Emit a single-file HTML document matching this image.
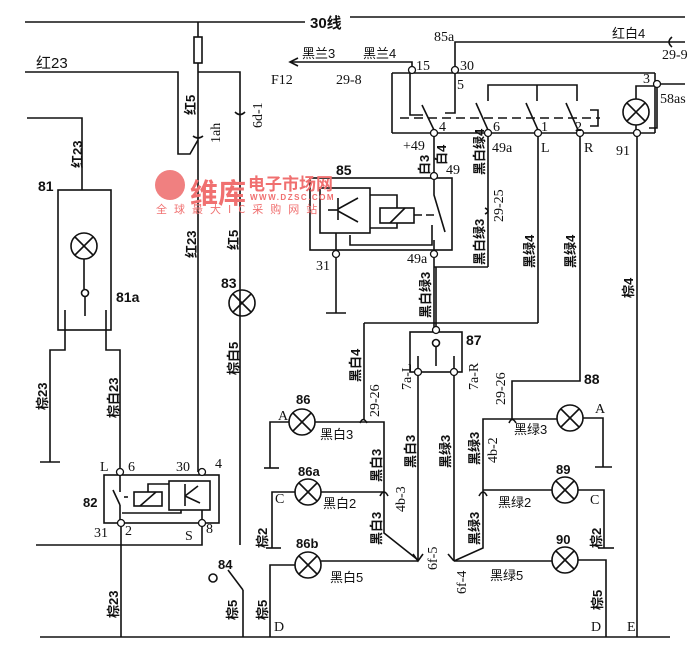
<!DOCTYPE html>
<html><head><meta charset="utf-8"><style>
body{margin:0;background:#fff}
svg{display:block}
text{font-family:"Liberation Serif","Noto Serif CJK SC",serif;font-size:14px;fill:#111}
.c{font-family:"Liberation Sans","Noto Sans CJK SC",sans-serif;font-weight:bold;font-size:13px}
</style></head><body>
<svg width="700" height="653" viewBox="0 0 700 653" xmlns="http://www.w3.org/2000/svg">
<g stroke="#111" stroke-width="1.6" fill="none">
<line x1="25" y1="22" x2="305" y2="22"/>
<line x1="350" y1="17" x2="685" y2="17"/>
<line x1="198" y1="22" x2="198" y2="472"/>
<rect x="194" y="37" width="8" height="26" fill="#fff"/>
<polyline points="25,72 178,72 178,154 190,154 198,140"/>
<path d="M193,136 q5,4 10,0"/>
<polyline points="198,72 240,72 240,545"/>
<path d="M235,112 q5,5 10,0"/>
<circle cx="242" cy="303" r="13"/>
<line x1="233" y1="294" x2="251" y2="312"/><line x1="251" y1="294" x2="233" y2="312"/>
<polyline points="27,118 82,118 82,190"/>
<rect x="58" y="190" width="53" height="140"/>
<circle cx="84" cy="246" r="13"/>
<line x1="75" y1="237" x2="93" y2="255"/><line x1="93" y1="237" x2="75" y2="255"/>
<line x1="84" y1="259" x2="84" y2="289"/>
<circle cx="85" cy="293" r="3.5" fill="#fff"/>
<line x1="85" y1="297" x2="85" y2="316"/>
<line x1="65" y1="310" x2="65" y2="330"/><line x1="106" y1="310" x2="106" y2="330"/>
<polyline points="65,330 65,350 50,350 50,462"/><line x1="40" y1="462" x2="60" y2="462"/>
<polyline points="106,330 106,350 120,350 120,472"/>
<rect x="104" y="475" width="115" height="48"/>
<rect x="169" y="481" width="41" height="29"/>
<rect x="134" y="492" width="28" height="14"/>
<polyline points="148,492 148,484 169,484"/>
<line x1="140" y1="506" x2="156" y2="492"/>
<line x1="120" y1="476" x2="120" y2="492"/>
<line x1="113" y1="490" x2="120" y2="505"/>
<line x1="120" y1="505" x2="120" y2="520"/>
<line x1="124" y1="497" x2="131" y2="497" stroke-dasharray="4 3"/>
<polyline points="122,513 181,513 181,510"/>
<line x1="185" y1="484" x2="185" y2="506"/><line x1="185" y1="496" x2="198" y2="486"/><line x1="185" y1="496" x2="200" y2="503"/>
<line x1="202" y1="510" x2="202" y2="520"/>
<polyline points="36,545 202,545 202,527"/>
<line x1="121" y1="527" x2="121" y2="637"/>
<circle cx="213" cy="578" r="4"/>
<line x1="228" y1="570" x2="243" y2="590"/>
<line x1="243" y1="590" x2="243" y2="637"/>
<line x1="40" y1="637" x2="670" y2="637"/>
<circle cx="302" cy="422" r="13"/><line x1="293" y1="413" x2="311" y2="431"/><line x1="311" y1="413" x2="293" y2="431"/>
<polyline points="289,422 270,422 270,468"/><line x1="264" y1="468" x2="279" y2="468"/>
<polyline points="315,422 384,422 384,533 418,560"/>
<path d="M360,423 q3,-7 7,0"/>
<line x1="364" y1="420" x2="364" y2="323"/>
<line x1="364" y1="323" x2="538" y2="323"/>
<circle cx="308" cy="492" r="13"/><line x1="299" y1="483" x2="317" y2="501"/><line x1="317" y1="483" x2="299" y2="501"/>
<polyline points="295,492 272,492 272,548"/><line x1="266" y1="548" x2="281" y2="548"/>
<line x1="321" y1="492" x2="384" y2="492"/>
<path d="M380,496 q4,-8 8,0"/>
<circle cx="308" cy="565" r="13"/><line x1="299" y1="556" x2="317" y2="574"/><line x1="317" y1="556" x2="299" y2="574"/>
<polyline points="295,565 270,565 270,637"/>
<line x1="321" y1="561" x2="418" y2="561"/>
<line x1="418" y1="372" x2="418" y2="561"/>
<path d="M413,554 l5,7 l5,-7"/>
<rect x="410" y="332" width="52" height="40"/>
<line x1="436" y1="267" x2="436" y2="330"/>
<circle cx="436" cy="343" r="3.5" fill="#fff"/>
<line x1="436" y1="347" x2="436" y2="366"/>
<line x1="418" y1="356" x2="418" y2="372"/><line x1="454" y1="356" x2="454" y2="372"/>
<line x1="454" y1="372" x2="454" y2="561"/>
<path d="M448,554 l6,7"/>
<polyline points="454,561 483,548 483,419 557,419"/>
<polyline points="454,561 552,561"/>
<path d="M509,423 q3,-7 7,0"/>
<polyline points="512,419 512,381 580,381 580,135"/>
<path d="M479,496 q4,-8 8,0"/>
<circle cx="570" cy="418" r="13"/><line x1="561" y1="409" x2="579" y2="427"/><line x1="579" y1="409" x2="561" y2="427"/>
<polyline points="583,418 603,418 603,467"/><line x1="595" y1="467" x2="612" y2="467"/>
<circle cx="565" cy="490" r="13"/><line x1="556" y1="481" x2="574" y2="499"/><line x1="574" y1="481" x2="556" y2="499"/>
<line x1="483" y1="490" x2="552" y2="490"/>
<polyline points="578,490 604,490 604,548"/><line x1="598" y1="548" x2="614" y2="548"/>
<circle cx="565" cy="560" r="13"/><line x1="556" y1="551" x2="574" y2="569"/><line x1="574" y1="551" x2="556" y2="569"/>
<polyline points="578,560 606,560 606,637"/>
<line x1="637" y1="135" x2="637" y2="637"/>
<polyline points="455,66 455,42 685,42"/>
<path d="M672,37 q-6,5 0,10"/>
<polyline points="412,66 412,62 290,62"/>
<path d="M298,58 l-8,4 l8,4"/>
<line x1="392" y1="73" x2="655" y2="73"/>
<line x1="392" y1="73" x2="392" y2="133"/>
<line x1="392" y1="133" x2="655" y2="133"/>
<line x1="655" y1="73" x2="655" y2="133"/>
<polyline points="410,73 410,115 423,115"/>
<polyline points="455,74 455,113 445,113"/>
<line x1="422" y1="105" x2="434" y2="130"/>
<line x1="476" y1="103" x2="488" y2="130"/>
<line x1="526" y1="103" x2="538" y2="130"/>
<line x1="566" y1="103" x2="578" y2="130"/>
<polyline points="488,101 488,85 577,85 577,101"/>
<line x1="537" y1="85" x2="537" y2="101"/>
<line x1="400" y1="118" x2="600" y2="118" stroke-dasharray="9 5"/>
<polyline points="590,110 598,110 598,126 590,126"/>
<circle cx="636" cy="112" r="13"/><line x1="627" y1="103" x2="645" y2="121"/><line x1="645" y1="103" x2="627" y2="121"/>
<polyline points="636,99 636,86 657,86 657,128 649,128"/>
<line x1="660" y1="84" x2="685" y2="84"/>
<line x1="636" y1="125" x2="636" y2="133"/>
<line x1="434" y1="133" x2="434" y2="176"/>
<line x1="488" y1="133" x2="488" y2="267"/>
<path d="M485,208 q6,3 0,6"/>
<line x1="538" y1="133" x2="538" y2="323"/>
<rect x="310" y="178" width="142" height="72"/>
<rect x="320" y="188" width="50" height="45"/>
<line x1="338" y1="198" x2="338" y2="220"/><line x1="328" y1="210" x2="338" y2="210"/>
<line x1="338" y1="209" x2="358" y2="198"/><line x1="338" y1="211" x2="358" y2="222"/>
<polyline points="370,195 397,195 397,208"/>
<rect x="380" y="208" width="34" height="15"/>
<line x1="390" y1="223" x2="405" y2="208"/>
<polyline points="397,223 397,228 370,228"/>
<line x1="414" y1="215" x2="438" y2="215" stroke-dasharray="8 4"/>
<polyline points="434,180 434,195 445,232"/>
<polyline points="432,225 432,245 350,245 350,235"/>
<line x1="434" y1="240" x2="434" y2="252"/>
<polyline points="336,233 336,250"/>
<polyline points="336,258 336,313"/><line x1="326" y1="313" x2="346" y2="313"/>
<polyline points="434,258 434,330"/>
<polyline points="434,267 488,267"/>
</g>
<g fill="#fff" stroke="#111" stroke-width="1.3">
<circle cx="120" cy="472" r="3.5"/><circle cx="202" cy="472" r="3.5"/>
<circle cx="121" cy="523" r="3.5"/><circle cx="202" cy="523" r="3.5"/>
<circle cx="412" cy="70" r="3.5"/><circle cx="455" cy="70" r="3.5"/><circle cx="657" cy="84" r="3.5"/>
<circle cx="434" cy="133" r="3.5"/><circle cx="488" cy="133" r="3.5"/><circle cx="538" cy="133" r="3.5"/><circle cx="580" cy="133" r="3.5"/><circle cx="637" cy="133" r="3.5"/>
<circle cx="434" cy="176" r="3.5"/><circle cx="434" cy="254" r="3.5"/><circle cx="336" cy="254" r="3.5"/>
<circle cx="436" cy="330" r="3.5"/><circle cx="418" cy="372" r="3.5"/><circle cx="454" cy="372" r="3.5"/>
</g>
<circle cx="170" cy="185" r="15" fill="#f08080"/>
<text x="190" y="203" style="font-family:'Noto Sans CJK SC',sans-serif;font-size:28px;font-weight:bold;fill:#f07070">维库</text>
<text x="248" y="190" style="font-family:'Noto Sans CJK SC',sans-serif;font-size:17px;font-weight:bold;fill:#f07070">电子市场网</text>
<text x="250" y="200" style="font-family:'Liberation Sans',sans-serif;font-size:8px;font-weight:bold;fill:#f07070;letter-spacing:1.5px">WWW.DZSC.COM</text>
<text x="156" y="213" style="font-family:'Noto Sans CJK SC',sans-serif;font-size:11px;fill:#f07070;letter-spacing:7px">全球最大IC采购网站</text>
<text x="310" y="28" class="c" style="font-size:15px">30线</text>
<text x="36" y="68" class="c" style="font-size:15px;font-weight:normal">红23</text>
<text x="302" y="58" class="c" style="font-weight:normal">黑兰3</text>
<text x="363" y="58" class="c" style="font-weight:normal">黑兰4</text>
<text x="271" y="84">F12</text>
<text x="336" y="84">29-8</text>
<text x="434" y="41">85a</text>
<text x="612" y="38" class="c" style="font-weight:normal">红白4</text>
<text x="662" y="59">29-9</text>
<text x="416" y="70">15</text><text x="460" y="70">30</text><text x="457" y="89">5</text>
<text x="643" y="83">3</text><text x="660" y="103">58as</text>
<text x="439" y="131">4</text><text x="493" y="131">6</text><text x="541" y="131">1</text><text x="575" y="131">2</text>
<text x="403" y="150">+49</text><text x="492" y="152">49a</text><text x="541" y="152">L</text><text x="584" y="152">R</text><text x="616" y="155">91</text>
<text x="446" y="174">49</text>
<text x="336" y="175" class="c" style="font-size:14px">85</text>
<text x="316" y="270">31</text><text x="407" y="263">49a</text>
<text x="466" y="345" class="c" style="font-size:14px">87</text>
<text x="584" y="384" class="c" style="font-size:14px">88</text>
<text x="38" y="191" class="c" style="font-size:14px">81</text>
<text x="116" y="302" class="c" style="font-size:14px">81a</text>
<text x="221" y="288" class="c" style="font-size:14px">83</text>
<text x="100" y="471">L</text><text x="128" y="471">6</text><text x="176" y="471">30</text><text x="215" y="468">4</text>
<text x="83" y="507" class="c">82</text>
<text x="94" y="537">31</text><text x="125" y="535">2</text><text x="185" y="540">S</text><text x="206" y="533">8</text>
<text x="218" y="569" class="c">84</text>
<text x="296" y="404" class="c">86</text><text x="278" y="420">A</text>
<text x="298" y="476" class="c">86a</text><text x="275" y="503">C</text>
<text x="296" y="548" class="c">86b</text><text x="274" y="631">D</text>
<text x="320" y="439" class="c" style="font-weight:normal">黑白3</text>
<text x="323" y="508" class="c" style="font-weight:normal">黑白2</text>
<text x="330" y="582" class="c" style="font-weight:normal">黑白5</text>
<text x="514" y="434" class="c" style="font-weight:normal">黑绿3</text>
<text x="498" y="507" class="c" style="font-weight:normal">黑绿2</text>
<text x="490" y="580" class="c" style="font-weight:normal">黑绿5</text>
<text x="595" y="413">A</text>
<text x="556" y="474" class="c">89</text><text x="590" y="504">C</text>
<text x="556" y="544" class="c">90</text>
<text x="591" y="631">D</text><text x="627" y="631">E</text>
<g>
<text transform="translate(82,168) rotate(-90)" class="c">红23</text>
<text transform="translate(195,115) rotate(-90)" class="c">红5</text>
<text transform="translate(196,258) rotate(-90)" class="c">红23</text>
<text transform="translate(238,250) rotate(-90)" class="c">红5</text>
<text transform="translate(238,375) rotate(-90)" class="c">棕白5</text>
<text transform="translate(47,410) rotate(-90)" class="c">棕23</text>
<text transform="translate(118,418) rotate(-90)" class="c">棕白23</text>
<text transform="translate(118,618) rotate(-90)" class="c">棕23</text>
<text transform="translate(237,620) rotate(-90)" class="c">棕5</text>
<text transform="translate(267,620) rotate(-90)" class="c">棕5</text>
<text transform="translate(267,548) rotate(-90)" class="c">棕2</text>
<text transform="translate(360,382) rotate(-90)" class="c">黑白4</text>
<text transform="translate(381,482) rotate(-90)" class="c">黑白3</text>
<text transform="translate(381,545) rotate(-90)" class="c">黑白3</text>
<text transform="translate(415,468) rotate(-90)" class="c">黑白3</text>
<text transform="translate(450,468) rotate(-90)" class="c">黑绿3</text>
<text transform="translate(479,465) rotate(-90)" class="c">黑绿3</text>
<text transform="translate(479,545) rotate(-90)" class="c">黑绿3</text>
<text transform="translate(484,175) rotate(-90)" class="c">黑白绿4</text>
<text transform="translate(484,265) rotate(-90)" class="c">黑白绿3</text>
<text transform="translate(430,318) rotate(-90)" class="c">黑白绿3</text>
<text transform="translate(429,175) rotate(-90)" class="c">白3</text>
<text transform="translate(446,165) rotate(-90)" class="c">白4</text>
<text transform="translate(534,268) rotate(-90)" class="c">黑绿4</text>
<text transform="translate(575,268) rotate(-90)" class="c">黑绿4</text>
<text transform="translate(633,298) rotate(-90)" class="c">棕4</text>
<text transform="translate(601,548) rotate(-90)" class="c">棕2</text>
<text transform="translate(602,610) rotate(-90)" class="c">棕5</text>
</g>
<g>
<text transform="translate(220,143) rotate(-90)">1ah</text>
<text transform="translate(262,128) rotate(-90)">6d-1</text>
<text transform="translate(503,222) rotate(-90)">29-25</text>
<text transform="translate(379,417) rotate(-90)">29-26</text>
<text transform="translate(411,390) rotate(-90)">7a-L</text>
<text transform="translate(478,390) rotate(-90)">7a-R</text>
<text transform="translate(505,405) rotate(-90)">29-26</text>
<text transform="translate(405,512) rotate(-90)">4b-3</text>
<text transform="translate(497,463) rotate(-90)">4b-2</text>
<text transform="translate(437,570) rotate(-90)">6f-5</text>
<text transform="translate(466,594) rotate(-90)">6f-4</text>
</g>
</svg>
</body></html>
